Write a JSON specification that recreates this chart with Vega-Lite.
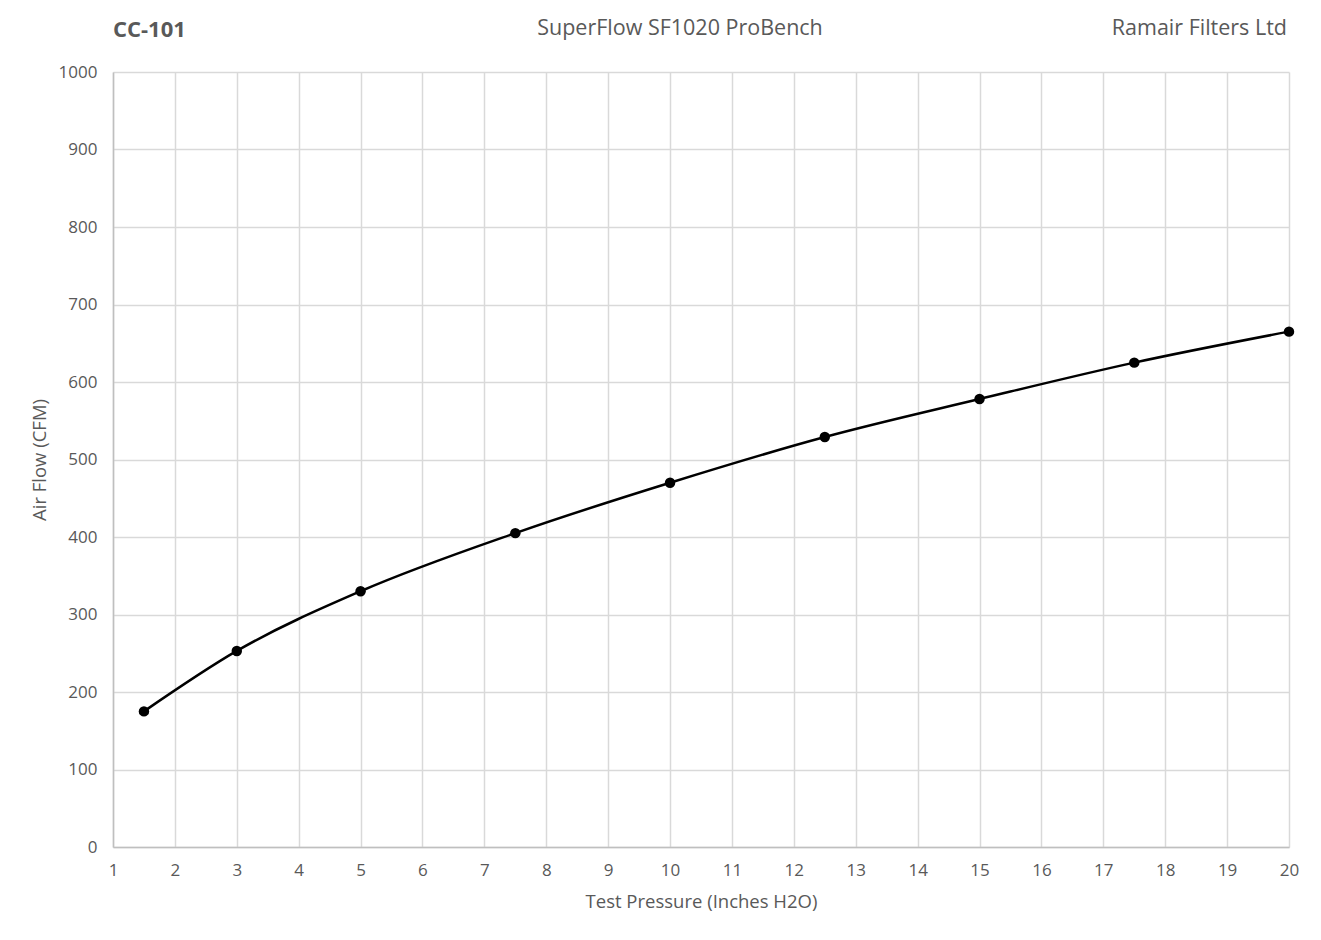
{
  "$schema": "https://vega.github.io/schema/vega-lite/v6.json",
  "description": "Air flow against test pressure on a SuperFlow SF1020 ProBench",
  "width": 1176,
  "height": 775,
  "autosize": {"type": "none"},
  "padding": {"left": 113, "top": 72, "right": 32, "bottom": 93},
  "background": "white",
  "config": {
    "font": "Open Sans",
    "view": {"stroke": null},
    "axis": {
      "labelFont": "Open Sans",
      "titleFont": "Open Sans",
      "labelFontSize": 17,
      "titleFontSize": 18.5,
      "labelColor": "#595959",
      "titleColor": "#595959",
      "titleFontWeight": "normal",
      "gridColor": "#d9d9d9",
      "gridWidth": 1.5,
      "domainColor": "#bfbfbf",
      "domainWidth": 1.5,
      "ticks": false
    }
  },
  "layer": [
    {
      "data": {
        "values": [
          {"pressure": 1.5, "flow": 175},
          {"pressure": 3, "flow": 253},
          {"pressure": 5, "flow": 330},
          {"pressure": 7.5, "flow": 405},
          {"pressure": 10, "flow": 470},
          {"pressure": 12.5, "flow": 529},
          {"pressure": 15, "flow": 578},
          {"pressure": 17.5, "flow": 625},
          {"pressure": 20, "flow": 665}
        ]
      },
      "encoding": {
        "x": {
          "field": "pressure",
          "type": "quantitative",
          "title": "Test Pressure (Inches H2O)",
          "scale": {"domain": [1, 20], "nice": false, "zero": false},
          "axis": {"values": [1,2,3,4,5,6,7,8,9,10,11,12,13,14,15,16,17,18,19,20], "format": "d", "labelPadding": 15, "titlePadding": 14, "labelFlush": false}
        },
        "y": {
          "field": "flow",
          "type": "quantitative",
          "title": "Air Flow (CFM)",
          "scale": {"domain": [0, 1000], "nice": false},
          "axis": {"values": [0,100,200,300,400,500,600,700,800,900,1000], "format": "d", "labelPadding": 16, "titlePadding": 9, "labelFlush": false}
        }
      },
      "layer": [
        {
          "mark": {"type": "line", "color": "black", "strokeWidth": 2.5, "interpolate": "monotone"}
        },
        {
          "mark": {"type": "point", "filled": true, "color": "black", "opacity": 1, "size": 110, "shape": "circle"}
        }
      ]
    },
    {
      "data": {"values": [{"label": "CC-101"}]},
      "mark": {"type": "text", "align": "left", "baseline": "alphabetic", "dy": -35, "fontSize": 22, "fontWeight": "bold", "color": "#595959"},
      "encoding": {"x": {"datum": 1, "type": "quantitative"}, "y": {"datum": 1000, "type": "quantitative"}, "text": {"field": "label"}}
    },
    {
      "data": {"values": [{"label": "SuperFlow SF1020 ProBench"}]},
      "mark": {"type": "text", "align": "center", "baseline": "alphabetic", "dx": -21, "dy": -37, "fontSize": 21.5, "fontWeight": "normal", "color": "#595959"},
      "encoding": {"x": {"datum": 10.5, "type": "quantitative"}, "y": {"datum": 1000, "type": "quantitative"}, "text": {"field": "label"}}
    },
    {
      "data": {"values": [{"label": "Ramair Filters Ltd"}]},
      "mark": {"type": "text", "align": "right", "baseline": "alphabetic", "dx": -2, "dy": -37, "fontSize": 21.5, "fontWeight": "normal", "color": "#595959"},
      "encoding": {"x": {"datum": 20, "type": "quantitative"}, "y": {"datum": 1000, "type": "quantitative"}, "text": {"field": "label"}}
    }
  ]
}
